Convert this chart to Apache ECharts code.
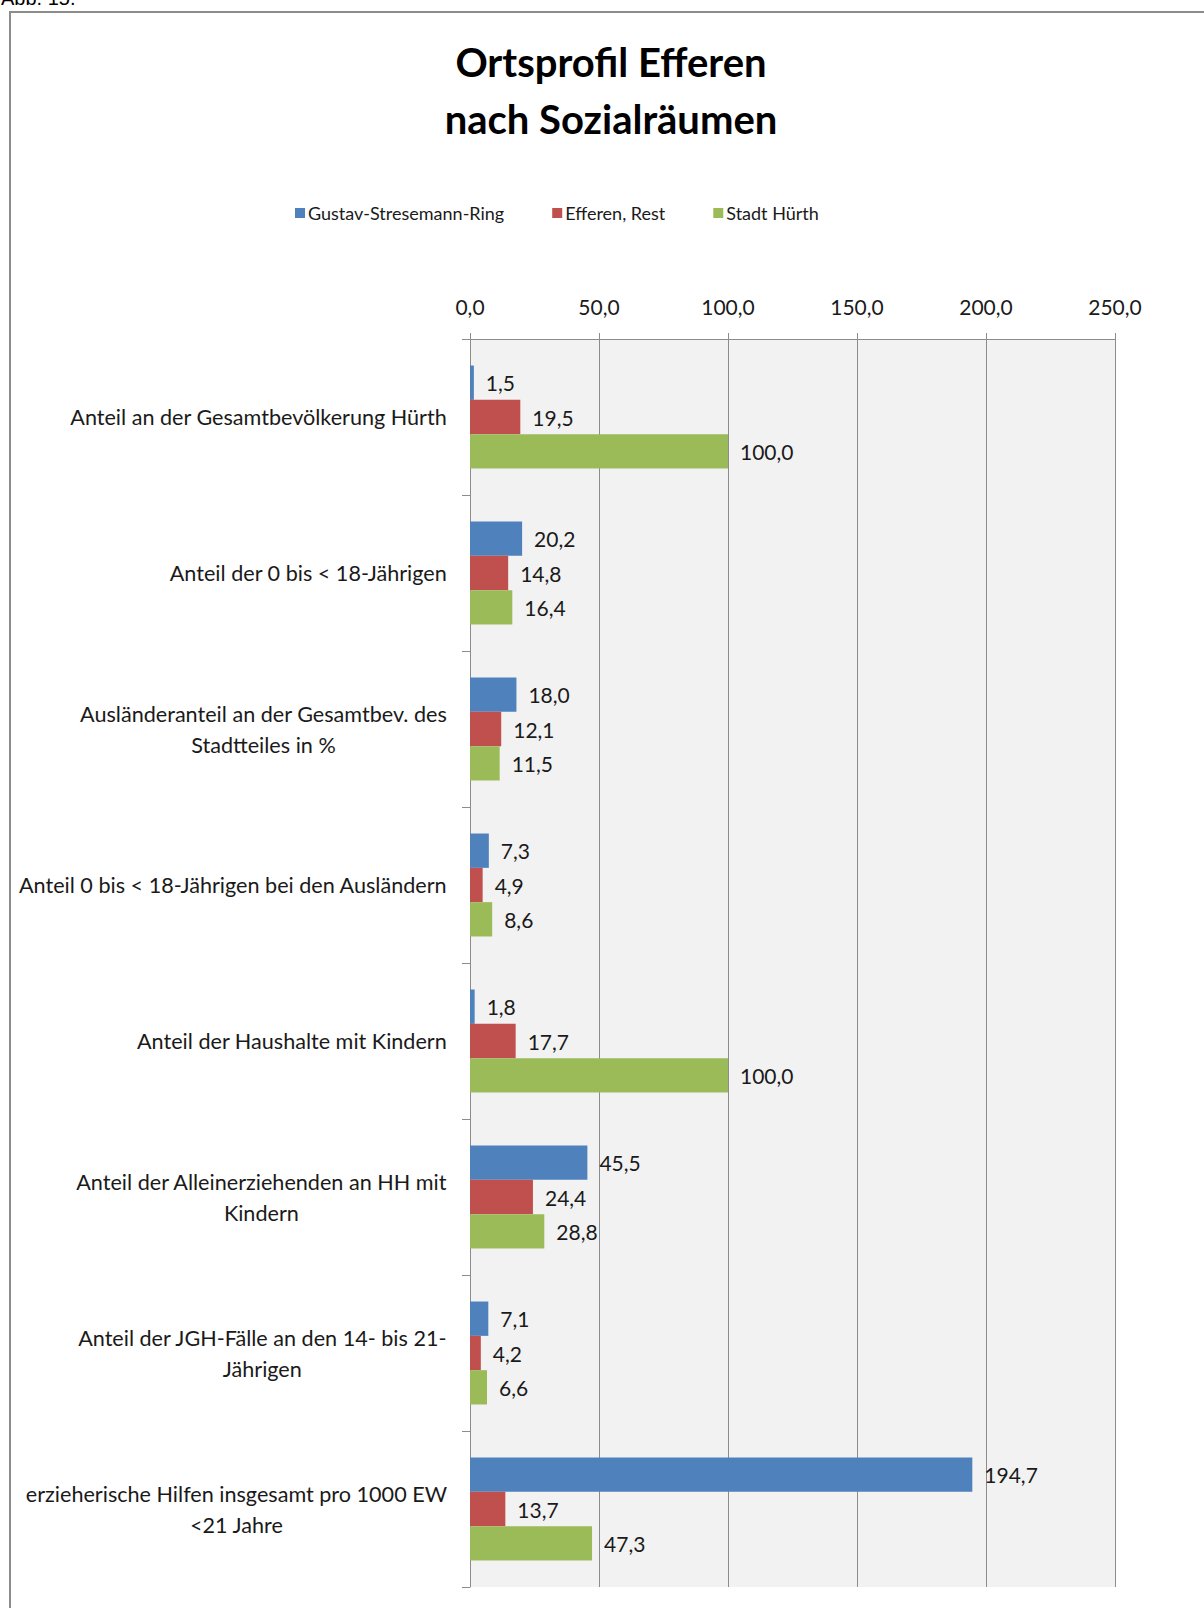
<!DOCTYPE html>
<html>
<head>
<meta charset="utf-8">
<script src="https://cdn.jsdelivr.net/npm/echarts@6/dist/echarts.min.js"></script>
<style>
  html, body { margin: 0; padding: 0; background: #fff; }
  #chart { width: 1204px; height: 1608px; }
</style>
</head>
<body>
<div id="chart"></div>
<script>
var chartDom = document.getElementById('chart');
var myChart = echarts.init(chartDom, null, { renderer: 'svg' });

const categories = [
    'Anteil an der Gesamtbevölkerung Hürth',
    'Anteil der 0 bis < 18-Jährigen',
    'Ausländeranteil an der Gesamtbev. des\nStadtteiles in %',
    'Anteil 0 bis < 18-Jährigen bei den Ausländern',
    'Anteil der Haushalte mit Kindern',
    'Anteil der Alleinerziehenden an HH mit\nKindern',
    'Anteil der JGH-Fälle an den 14- bis 21-\nJährigen',
    'erzieherische Hilfen insgesamt pro 1000 EW\n<21 Jahre'
];
const seriesNames = ['Gustav-Stresemann-Ring', 'Efferen, Rest', 'Stadt Hürth'];
const gustavRing = [1.5, 20.2, 18.0, 7.3, 1.8, 45.5, 7.1, 194.7];
const efferenRest = [19.5, 14.8, 12.1, 4.9, 17.7, 24.4, 4.2, 13.7];
const stadtHuerth = [100.0, 16.4, 11.5, 8.6, 100.0, 28.8, 6.6, 47.3];
const colors = ['#4f81bd', '#c0504d', '#9bbb59'];

const font = 'Lato';
const fmt = v => v.toFixed(1).replace('.', ',');

function barSeries(name, data, color) {
    return {
        name: name,
        type: 'bar',
        data: data,
        barGap: '0%',
        barCategoryGap: '34%',
        itemStyle: { color: color },
        label: {
            show: true,
            position: 'right',
            distance: 12,
            formatter: p => fmt(p.value),
            color: '#1a1a1a',
            fontFamily: font,
            fontSize: 21
        }
    };
}

var option = {
    backgroundColor: '#fff',
    animation: false,
    color: colors,
    graphic: [
        {   // Rahmen, läuft rechts und unten aus dem Bild
            type: 'rect',
            shape: { x: 10, y: 12, width: 1300, height: 1700 },
            style: { fill: 'none', stroke: '#8c8c8c', lineWidth: 2 }
        },
        {
            type: 'text', x: 1, y: 8,
            style: { text: 'Abb. 15.', fontFamily: 'Liberation Sans', fontSize: 20, fill: '#000', verticalAlign: 'bottom', textVerticalAlign: 'bottom' }
        },
        {
            type: 'text', x: 611, y: 90,
            style: {
                text: 'Ortsprofil Efferen\nnach Sozialräumen',
                fontFamily: font, fontWeight: 'bold', fontSize: 40, lineHeight: 57,
                fill: '#000',
                align: 'center', textAlign: 'center',
                verticalAlign: 'middle', textVerticalAlign: 'middle'
            }
        }
    ],
    legend: {
        left: 290,
        top: 199,
        itemWidth: 10,
        itemHeight: 10,
        itemGap: 48,
        icon: 'rect',
        textStyle: { fontFamily: font, fontSize: 18, color: '#1a1a1a', padding: [0, 0, 0, -2] },
        data: seriesNames
    },
    grid: {
        left: 470,
        top: 339,
        right: 89,
        bottom: 21,
        show: true,
        backgroundColor: '#f2f2f2',
        borderWidth: 0
    },
    xAxis: {
        type: 'value',
        position: 'top',
        min: 0,
        max: 250,
        interval: 50,
        axisLine: { show: true, lineStyle: { color: '#8c8c8c' } },
        axisTick: { show: true, length: 6, lineStyle: { color: '#8c8c8c' } },
        splitLine: { show: true, lineStyle: { color: '#8c8c8c' } },
        axisLabel: {
            formatter: v => fmt(v),
            fontFamily: font,
            fontSize: 21,
            color: '#1a1a1a',
            margin: 22
        }
    },
    yAxis: {
        type: 'category',
        inverse: true,
        data: categories,
        axisLine: { show: true, lineStyle: { color: '#8c8c8c' } },
        axisTick: { show: true, length: 8, lineStyle: { color: '#8c8c8c' } },
        axisLabel: {
            margin: 23,
            formatter: v => v.split('\n').map(s => '{c|' + s + '}').join('\n'),
            rich: {
                c: { align: 'center', fontFamily: font, fontSize: 21.6, lineHeight: 31, color: '#1a1a1a' }
            }
        }
    },
    series: [
        barSeries(seriesNames[0], gustavRing, colors[0]),
        barSeries(seriesNames[1], efferenRest, colors[1]),
        barSeries(seriesNames[2], stadtHuerth, colors[2])
    ]
};

option && myChart.setOption(option);
</script>
</body>
</html>
